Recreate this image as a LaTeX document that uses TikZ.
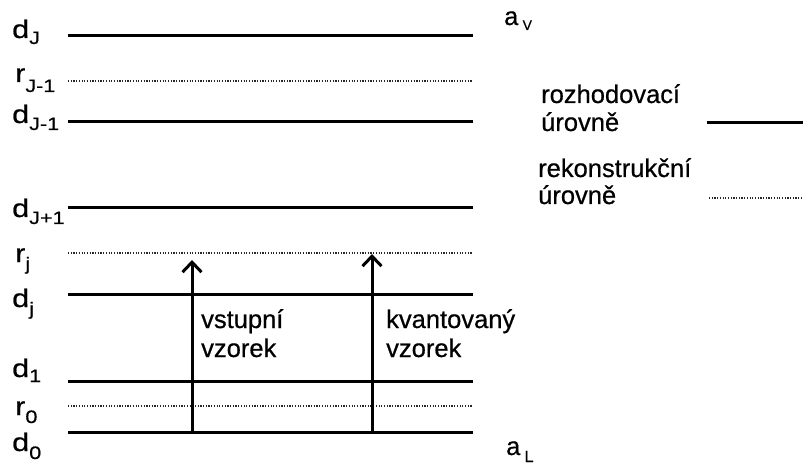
\documentclass[tikz,border=0pt]{standalone}
\usepackage{graphicx}
\usepackage{fontspec}
\setmainfont{Liberation Sans}[FakeBold=0.6]
\usetikzlibrary{arrows.meta}
\newcommand{\llab}[3]{\scalebox{1.2}[1]{#1\raisebox{-#2pt}{\fontsize{18}{18}\selectfont #3}}}
\begin{document}
\begin{tikzpicture}[x=1pt,y=-1pt,
  lvl/.style={line width=3pt},
  rec/.style={line width=1.2pt, dash pattern=on 1.2pt off 1.5pt, black!85},
  lab/.style={anchor=base west, inner sep=0pt, font=\fontsize{25.5}{28}\selectfont},
  slab/.style={anchor=base west, inner sep=0pt, font=\fontsize{25.5}{28}\selectfont},
  arr/.style={line width=3pt, -{Straight Barb[length=10pt,width=19pt,line width=3pt]}}]
\useasboundingbox (0,0) rectangle (803,465);
% level coordinates
\foreach \n/\y in {dJ/36, rJm/81, dJm/122, dJp/208, rj/253, dj/294, d1/381, r0/406, d0/432}{
  \coordinate (\n-a) at (68,\y);
  \coordinate (\n-b) at (473,\y);
}
\draw[lvl] (dJ-a) -- (dJ-b);
\draw[rec] (rJm-a) -- (rJm-b);
\draw[lvl] (dJm-a) -- (dJm-b);
\draw[lvl] (dJp-a) -- (dJp-b);
\draw[rec] (rj-a) -- (rj-b);
\draw[lvl] (dj-a) -- (dj-b);
\draw[lvl] (d1-a) -- (d1-b);
\draw[rec] (r0-a) -- (r0-b);
\draw[lvl] (d0-a) -- (d0-b);
% left labels
\node[slab] (ldJ) at (12,38) {\llab{d}{6}{J}};
\node[slab] (lrJm) at (15,82) {\llab{r}{10}{J-1}};
\node[slab] (ldJm) at (12,123) {\llab{d}{7}{J-1}};
\node[slab] (ldJp) at (12,217) {\llab{d}{7}{J+1}};
\node[slab] (lrj) at (15,262) {\llab{r}{8}{j}};
\node[slab] (ldj) at (12,307) {\llab{d}{8}{j}};
\node[slab] (ld1) at (12,377) {\llab{d}{5}{1}};
\node[slab] (lr0) at (15,415) {\llab{r}{8}{0}};
\node[slab] (ld0) at (12,451) {\llab{d}{8}{0}};
% right labels
\node[lab] (aV) at (504,25) {a\,\raisebox{-5pt}{\fontsize{14}{14}\selectfont V}};
\node[lab] (aL) at (506,455) {a\,\raisebox{-7pt}{\fontsize{16}{16}\selectfont L}};
% arrows
\coordinate (s0) at (192,433);
\coordinate (s1) at (192,260);
\coordinate (q0) at (372,433);
\coordinate (q1) at (372,254);
\draw[arr] (s0) -- (s1);
\draw[arr] (q0) -- (q1);
\node[lab] (vs1) at (201,328) {vstupní};
\node[lab] (vs2) at (201,357) {vzorek};
\node[lab] (kv1) at (386,328) {kvantovaný};
\node[lab] (kv2) at (386,357) {vzorek};
% legend
\node[lab] (lg1) at (541,103) {rozhodovací};
\node[lab] (lg2) at (541,131) {úrovně};
\node[lab] (lg3) at (538,177) {rekonstrukční};
\node[lab] (lg4) at (538,204) {úrovně};
\coordinate (la) at (707,123);
\coordinate (lb) at (803,123);
\coordinate (ra) at (709,198);
\coordinate (rb) at (803,198);
\draw[lvl] (la) -- (lb);
\draw[rec] (ra) -- (rb);
\end{tikzpicture}
\end{document}
